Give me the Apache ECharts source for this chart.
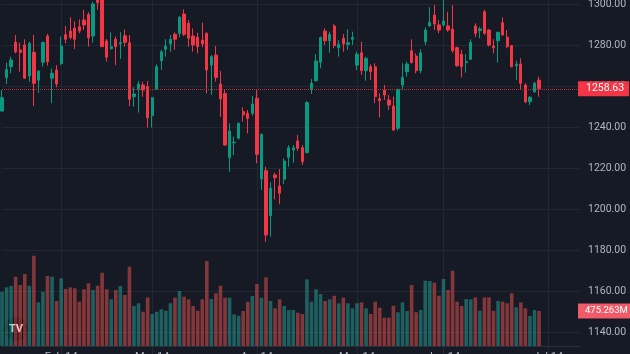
<!DOCTYPE html>
<html>
<head>
<meta charset="utf-8">
<script src="https://cdn.jsdelivr.net/npm/echarts@6/dist/echarts.min.js"></script>
<style>
  html, body { margin: 0; padding: 0; background: #161a25; }
  #chart { width: 630px; height: 354px; }
</style>
</head>
<body>
<div id="chart"></div>
<script>
// daily candles
const opens = [
  1247.8, 1264.0, 1269.4, 1281.3, 1277.6, 1280.0, 1264.9, 1276.4, 1262.8, 1271.6,
  1284.4, 1263.8, 1267.8, 1270.9, 1285.0, 1286.8, 1288.3, 1288.9, 1292.2, 1294.8,
  1284.4, 1302.5, 1303.0, 1282.0, 1278.2, 1282.8, 1280.5, 1284.5, 1281.1, 1254.8,
  1258.4, 1260.5, 1259.7, 1245.5, 1258.4, 1272.3, 1277.9, 1280.5, 1285.2, 1285.7,
  1295.1, 1290.6, 1284.4, 1283.8, 1282.4, 1285.7, 1270.2, 1275.1, 1261.0, 1256.4,
  1225.0, 1232.3, 1234.5, 1247.5, 1246.7, 1246.7, 1254.0, 1214.6, 1218.7, 1196.7,
  1216.6, 1211.2, 1214.5, 1225.2, 1228.8, 1233.2, 1229.9, 1227.5, 1258.5, 1262.6,
  1271.6, 1286.8, 1282.1, 1289.3, 1278.7, 1283.3, 1280.3, 1282.8, 1270.2, 1276.2,
  1267.5, 1269.4, 1269.4, 1253.8, 1258.0, 1253.2, 1250.2, 1239.4, 1260.5, 1267.0,
  1277.2, 1274.6, 1267.5, 1281.6, 1289.3, 1294.6, 1289.8, 1289.8, 1289.3, 1287.7,
  1278.7, 1275.5, 1271.4, 1273.0, 1289.3, 1287.0, 1296.2, 1287.3, 1279.5, 1282.1,
  1290.9, 1283.8, 1279.7, 1269.9, 1270.7, 1260.5, 1252.3, 1257.2, 1262.9
];
const closes = [
  1254.3, 1268.1, 1272.7, 1276.7, 1276.4, 1263.8, 1280.8, 1261.3, 1267.3, 1281.3,
  1271.9, 1266.2, 1261.0, 1279.5, 1282.8, 1283.6, 1282.8, 1286.8, 1289.8, 1283.6,
  1300.0, 1300.6, 1279.2, 1274.0, 1279.2, 1279.2, 1281.1, 1281.3, 1253.5, 1256.1,
  1261.0, 1258.0, 1244.5, 1254.3, 1269.4, 1276.7, 1279.5, 1282.8, 1282.8, 1293.5,
  1285.2, 1283.3, 1280.0, 1279.2, 1280.5, 1267.8, 1274.3, 1264.2, 1253.7, 1231.2,
  1238.0, 1232.6, 1241.8, 1245.9, 1244.2, 1251.2, 1226.7, 1236.4, 1187.3, 1210.1,
  1215.3, 1207.7, 1223.4, 1229.9, 1229.9, 1229.6, 1223.1, 1251.9, 1261.3, 1272.2,
  1283.6, 1282.1, 1285.2, 1279.7, 1280.3, 1280.5, 1281.1, 1283.6, 1275.5, 1267.5,
  1273.5, 1267.0, 1254.8, 1252.8, 1255.6, 1250.7, 1238.5, 1258.4, 1264.2, 1270.7,
  1271.4, 1267.5, 1276.2, 1287.3, 1291.1, 1290.2, 1287.3, 1291.7, 1287.3, 1277.2,
  1269.9, 1269.4, 1271.9, 1281.3, 1285.7, 1287.8, 1285.7, 1280.0, 1278.7, 1286.2,
  1284.9, 1279.2, 1269.4, 1270.6, 1261.3, 1252.3, 1254.5, 1261.3, 1258.63
];
const lows = [
  1247.5, 1260.9, 1266.2, 1275.9, 1267.0, 1263.4, 1262.1, 1250.2, 1256.7, 1269.4,
  1269.9, 1251.6, 1259.4, 1270.2, 1280.8, 1282.8, 1278.0, 1285.7, 1287.3, 1279.2,
  1281.1, 1297.1, 1279.0, 1271.9, 1277.6, 1270.2, 1273.2, 1279.2, 1250.2, 1249.9,
  1247.0, 1254.8, 1239.7, 1239.7, 1258.0, 1267.8, 1274.3, 1276.7, 1277.6, 1283.8,
  1284.4, 1279.2, 1276.7, 1275.9, 1278.9, 1256.4, 1255.6, 1262.1, 1244.9, 1230.9,
  1218.2, 1226.3, 1234.0, 1242.6, 1236.9, 1245.5, 1222.3, 1209.3, 1184.0, 1186.5,
  1204.7, 1202.3, 1212.2, 1220.6, 1222.6, 1228.4, 1221.5, 1227.2, 1256.1, 1262.1,
  1268.6, 1280.0, 1276.2, 1278.4, 1274.3, 1276.7, 1277.6, 1280.0, 1267.8, 1265.4,
  1262.6, 1262.9, 1251.6, 1244.7, 1253.2, 1248.3, 1238.0, 1238.2, 1258.0, 1264.5,
  1271.1, 1266.2, 1266.2, 1280.0, 1288.9, 1287.3, 1285.7, 1288.9, 1286.5, 1276.2,
  1269.4, 1264.2, 1266.5, 1272.7, 1283.8, 1283.3, 1284.9, 1279.2, 1275.9, 1271.4,
  1284.4, 1278.4, 1269.1, 1262.9, 1258.4, 1251.6, 1250.7, 1256.7, 1254.8
];
const highs = [
  1258.0, 1271.4, 1274.3, 1284.9, 1281.1, 1282.8, 1281.6, 1284.9, 1267.5, 1281.6,
  1285.4, 1268.6, 1270.2, 1284.1, 1289.3, 1293.5, 1291.5, 1292.5, 1297.1, 1296.1,
  1301.1, 1303.5, 1304.0, 1282.9, 1286.2, 1284.1, 1286.2, 1287.6, 1284.9, 1259.4,
  1262.4, 1262.1, 1262.4, 1254.6, 1270.6, 1277.6, 1282.8, 1284.9, 1286.2, 1294.1,
  1297.4, 1292.2, 1288.1, 1286.0, 1290.9, 1286.2, 1275.1, 1279.5, 1267.3, 1258.4,
  1241.8, 1235.3, 1242.1, 1249.6, 1248.3, 1255.1, 1258.0, 1236.9, 1220.6, 1213.0,
  1217.7, 1219.5, 1224.7, 1231.2, 1231.2, 1236.1, 1231.2, 1252.7, 1263.4, 1275.6,
  1284.1, 1288.1, 1286.5, 1290.2, 1282.4, 1285.4, 1287.7, 1286.5, 1276.7, 1281.6,
  1274.3, 1270.6, 1271.1, 1256.4, 1260.5, 1255.6, 1254.8, 1258.6, 1271.1, 1271.9,
  1282.8, 1275.9, 1277.9, 1288.6, 1298.4, 1299.5, 1292.2, 1302.0, 1296.2, 1299.5,
  1279.2, 1277.6, 1275.6, 1282.8, 1290.6, 1288.9, 1297.1, 1287.7, 1282.8, 1286.5,
  1293.5, 1287.3, 1280.0, 1272.3, 1273.5, 1261.3, 1255.1, 1262.1, 1264.5
];
// volume in millions
const volumes = [
  737, 797, 815, 941, 828, 978, 819, 1226, 593, 737,
  951, 941, 611, 919, 774, 797, 784, 602, 770, 851,
  760, 819, 995, 770, 634, 760, 815, 693, 1077, 543,
  580, 466, 661, 435, 466, 498, 479, 580, 656, 747,
  669, 634, 543, 479, 634, 1154, 638, 716, 819, 656,
  656, 430, 411, 475, 602, 679, 842, 656, 933, 611,
  512, 634, 543, 489, 489, 452, 435, 906, 602, 770,
  706, 611, 634, 683, 580, 656, 580, 512, 580, 593,
  512, 435, 602, 520, 384, 384, 547, 458, 593, 475,
  828, 458, 489, 887, 883, 860, 683, 910, 760, 1023,
  602, 543, 638, 634, 661, 479, 661, 661, 479, 611,
  602, 580, 716, 526, 593, 512, 407, 489, 475.263
];
const tickIndex = [13, 33, 56, 78, 97, 120];
const tickLabels = ['Feb 14', 'Mar 14', 'Apr 14', 'May 14', 'Jun 14', 'Jul 14'];
const lastPrice = 1258.63;
const lastVolume = 475.263;
const slotCount = 128; // data slots plus empty space on the right

const upColor = '#089981';
const downColor = '#f23645';
const gridColor = '#232733';
const textColor = '#b2b5be';

let categories = [];
for (let i = 0; i < slotCount; i++) categories.push(String(i));

let candleData = opens.map((o, i) => [o, closes[i], lows[i], highs[i]]);
let volumeData = volumes.map((v, i) => ({
  value: v,
  itemStyle: { color: closes[i] >= opens[i] ? 'rgba(38,166,154,0.5)' : 'rgba(239,83,80,0.5)' },
}));

const isTick = (i) => tickIndex.indexOf(i) >= 0;

let chart = echarts.init(document.getElementById('chart'));
chart.setOption({
  backgroundColor: '#161a25',
  animation: false,
  textStyle: { fontFamily: 'Roboto, sans-serif' },
  grid: [
    { left: 2, right: 50, top: -37, height: 410, outerBoundsMode: 'none', containLabel: false },
    { left: 2, right: 50, top: 250, height: 96, outerBoundsMode: 'none', containLabel: false },
  ],
  xAxis: [
    {
      type: 'category', gridIndex: 0, data: categories, boundaryGap: false,
      axisLine: { show: false }, axisTick: { show: false }, axisLabel: { show: false },
      splitLine: { show: true, interval: isTick, lineStyle: { color: gridColor, width: 1 } },
    },
    {
      type: 'category', gridIndex: 1, data: categories, boundaryGap: false,
      axisLine: { show: true, lineStyle: { color: '#2a2e39' } },
      axisTick: { show: false },
      axisLabel: {
        interval: isTick,
        formatter: (v) => tickLabels[tickIndex.indexOf(Number(v))],
        color: textColor, fontSize: 11, margin: 6,
      },
      splitLine: { show: false },
    },
  ],
  yAxis: [
    {
      type: 'value', gridIndex: 0, position: 'right',
      min: 1120, max: 1320, interval: 20,
      axisLine: { show: false }, axisTick: { show: false },
      axisLabel: { color: textColor, fontSize: 10.5, margin: 8, formatter: (v) => v.toFixed(2) },
      splitLine: { lineStyle: { color: gridColor, width: 1 } },
    },
    { type: 'value', gridIndex: 1, min: 0, max: 1304, show: false, splitLine: { show: false } },
  ],
  series: [
    {
      type: 'candlestick', xAxisIndex: 0, yAxisIndex: 0,
      data: candleData, barWidth: 2.8,
      itemStyle: { color: upColor, color0: downColor, borderColor: upColor, borderColor0: downColor, borderWidth: 1 },
      markLine: {
        symbol: 'none', silent: true, animation: false,
        data: [{ yAxis: lastPrice }],
        lineStyle: { color: '#c22d3b', type: [1, 1], width: 1 },
        label: {
          position: 'end', distance: -2,
          formatter: lastPrice.toFixed(2),
          backgroundColor: downColor, color: '#ffffff',
          fontSize: 10.5, padding: [2, 5, 2, 8],
        },
      },
    },
    {
      type: 'bar', xAxisIndex: 1, yAxisIndex: 1,
      data: volumeData, barWidth: 3.6,
      markLine: {
        symbol: 'none', silent: true, animation: false,
        data: [{ yAxis: lastVolume }],
        lineStyle: { color: 'transparent', width: 0 },
        label: {
          show: true,
          position: 'end', distance: -2,
          formatter: lastVolume + 'M',
          backgroundColor: '#f15b68', color: '#ffffff',
          fontSize: 9.5, padding: [3, 3, 2, 7],
        },
      },
    },
  ],
  graphic: [
    { type: 'circle', shape: { cx: 16, cy: 329, r: 12 }, style: { fill: '#0b0d12' } },
    { type: 'text', x: 16, y: 329, style: { text: 'TV', fill: '#ffffff', font: 'bold 11px Roboto', align: 'center', verticalAlign: 'middle' } },
  ],
});
</script>
</body>
</html>
